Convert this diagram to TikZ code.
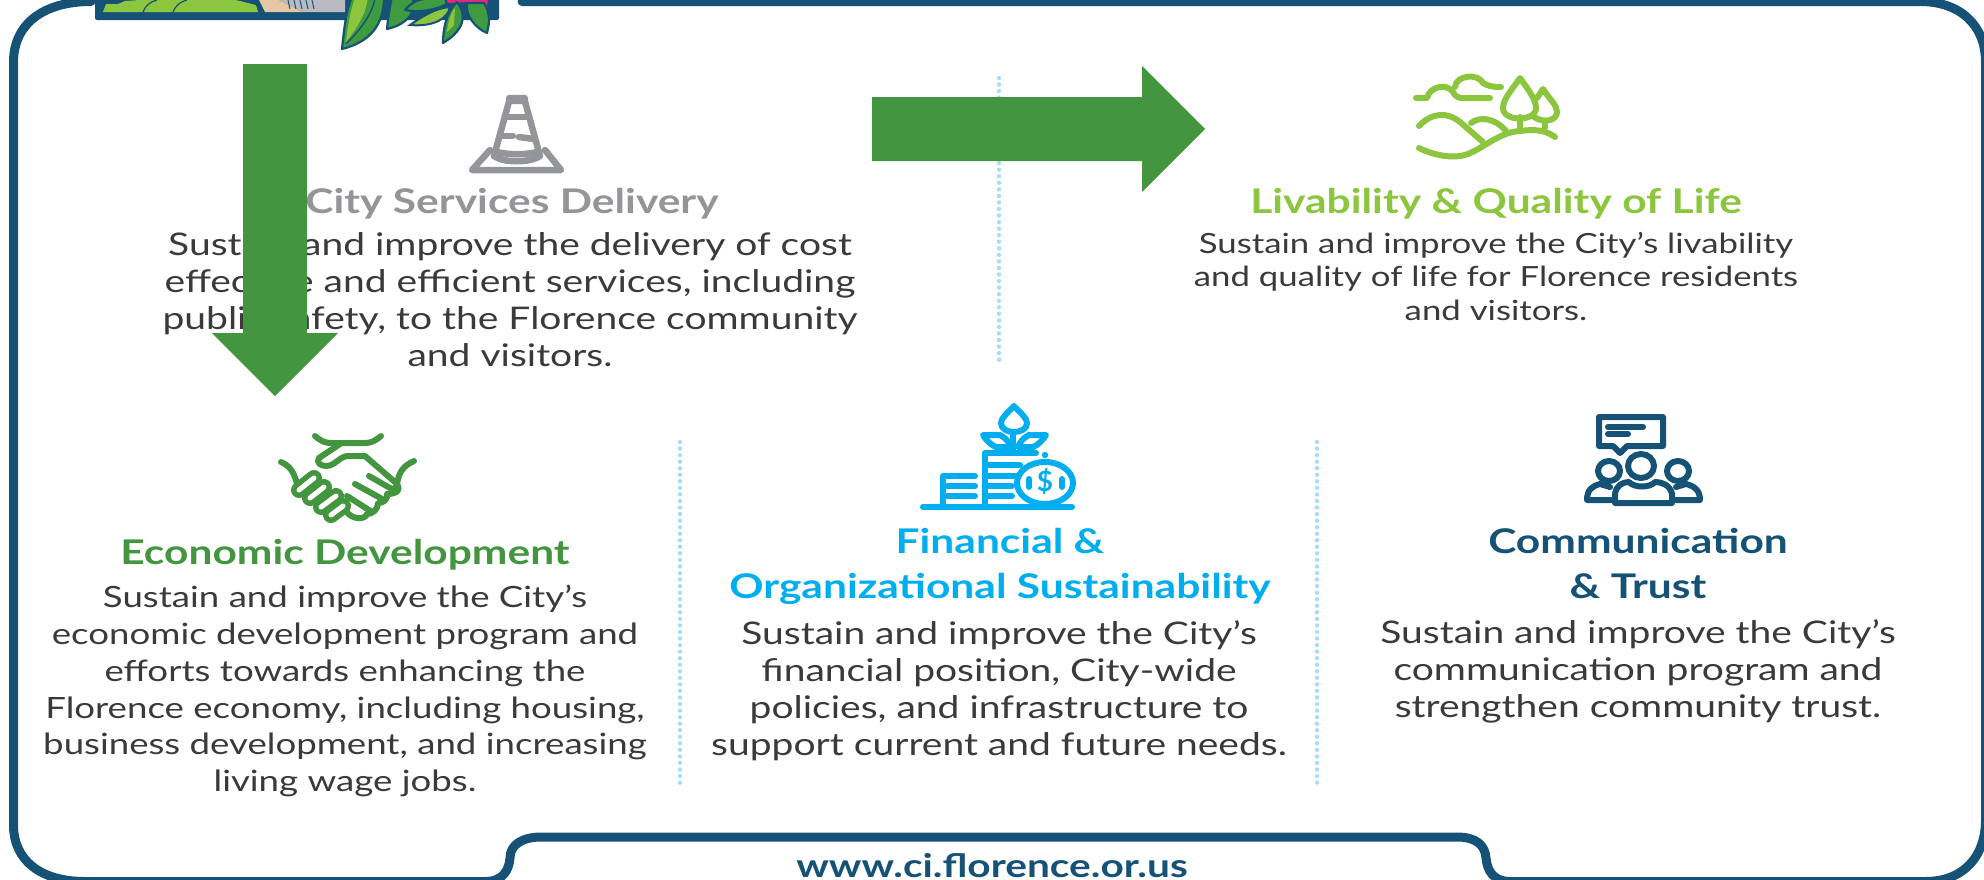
\documentclass[tikz,border=0pt]{standalone}
\usepackage{fontspec}
\setmainfont{Lato}
\newfontfamily\wfont{Lato}[FakeStretch=1.25]
\definecolor{navy}{HTML}{165276}
\definecolor{grn}{HTML}{44953F}
\definecolor{lime}{HTML}{8CC63F}
\definecolor{leafd}{HTML}{3F9B3F}
\definecolor{sky}{HTML}{00AEEF}
\definecolor{gry}{HTML}{939598}
\definecolor{txt}{HTML}{3A3A3C}
\definecolor{dots}{HTML}{A9DDF5}
\definecolor{beige}{HTML}{E6C6A4}
\definecolor{rail}{HTML}{B9BBBE}
\definecolor{pinkf}{HTML}{E6277B}
\tikzset{
 head/.style={font=\wfont\bfseries\fontsize{34}{45}\selectfont,align=center,anchor=center,inner sep=0pt},
 body/.style={text=txt,font=\wfont\fontsize{31.2}{37}\selectfont,align=center,anchor=north,inner sep=0pt},
 bodyecon/.style={text=txt,font=\wfont\fontsize{29.3}{36.8}\selectfont,align=center,anchor=north,inner sep=0pt},
 bodysmall/.style={text=txt,font=\wfont\fontsize{27.8}{33.5}\selectfont,align=center,anchor=north,inner sep=0pt},
 sep/.style={dots,line width=4.4pt,line cap=round,dash pattern=on 0pt off 6.55pt},
 icon/.style={line width=5pt,line cap=round,line join=round},
 leaf/.style={fill=leafd,draw=navy,line width=2.2pt,line join=round},
 leaflight/.style={fill=lime,draw=none}}
\begin{document}
\begin{tikzpicture}[x=1pt,y=-1pt]
\useasboundingbox (0,0) rectangle (1984,879);
% frame
\draw[navy,line width=9pt,line cap=round,line join=round]
 (91,1.5) .. controls (42,1.5) and (13.5,25) .. (13.5,62) -- (13.5,825)
 .. controls (13.5,860) and (40,881.5) .. (85,881.5) -- (485,881.5)
 .. controls (503,881.5) and (509,870) .. (510,858) .. controls (510,845) and (522,837) .. (541,837)
 -- (1457,837) .. controls (1476,837) and (1485,845) .. (1486,858) .. controls (1487,870) and (1493,881.5) .. (1510,881.5)
 -- (1925,881.5) .. controls (1965,881.5) and (1985.5,855) .. (1985.5,820) -- (1985.5,62)
 .. controls (1985.5,25) and (1960,1.5) .. (1920,1.5) -- (522,1.5);
% logo fragment
\fill[navy,rounded corners=2pt] (95,-5) rectangle (499,20);
\fill[lime] (103,12) -- (106,4) -- (118,4) -- (125,1) -- (140,0) -- (146,-2) -- (225,-2) -- (240,1) -- (256,5) -- (258,12) -- cycle;
\draw[navy,line width=1.2pt] (143,12) .. controls (146,5) and (150,2) .. (157,0);
\draw[navy,line width=1.2pt] (173,12) .. controls (176,5) and (180,2) .. (187,0);
\fill[beige] (258,-2) -- (265,12) -- (303,12) -- (275,-2) -- cycle;
\fill[rail] (275,-2) -- (303,12) -- (345,12) -- (345,-2) -- cycle;
\foreach \q in {288,294,300,306,312}{\draw[navy,line width=1pt] (\q,0) -- (\q+2,9);}
\fill[pinkf] (440,-2) -- (488,-2) -- (487,7) -- (470,2) -- (445,3) -- cycle;
% leaves
\filldraw[leaf] (342,49) .. controls (344,30) and (346,10) .. (352,-3) -- (384,-3) .. controls (384,25) and (370,42) .. (342,49) -- cycle;
\fill[leaflight] (346,42) .. controls (348,25) and (351,8) .. (355,-2) -- (368,-2) .. controls (366,10) and (362,22) .. (346,42) -- cycle;
\draw[navy,line width=1.4pt] (346,44) .. controls (360,30) and (372,15) .. (375,-2);
\filldraw[leaf] (387,29) .. controls (388,18) and (390,5) .. (392,-3) -- (412,-3) .. controls (418,8) and (410,24) .. (387,29) -- cycle;
\filldraw[leaf] (405,10) .. controls (415,-2) and (425,-2) .. (445,-2) -- (447,4) .. controls (435,10) and (420,13) .. (405,10) -- cycle;
\filldraw[fill=lime,draw=navy,line width=2pt] (410,25) .. controls (420,18) and (435,8) .. (450,7) .. controls (448,18) and (435,27) .. (410,25) -- cycle;
\filldraw[leaf] (443,43) .. controls (443,30) and (446,12) .. (457,2) .. controls (465,12) and (468,28) .. (443,43) -- cycle;
\fill[leaflight] (447,32) .. controls (448,22) and (451,12) .. (455,8) -- (454,25) -- cycle;
\filldraw[leaf] (487,33) .. controls (475,28) and (465,15) .. (467,3) -- (484,3) .. controls (490,12) and (490,22) .. (487,33) -- cycle;
% separators
\draw[sep] (999,78) -- (999,364);
\draw[sep] (680,442) -- (680,786);
\draw[sep] (1317,442) -- (1317,786);
% right arrow
\fill[grn] (872,97) -- (1142,97) -- (1142,66) -- (1205,129) -- (1142,192) -- (1142,161) -- (872,161) -- cycle;
% cone
\begin{scope}[gry,icon,line width=6.5pt]
 \draw (510,98) -- (524,98) -- (540,156) .. controls (530,163) and (503,163) .. (494,156) -- cycle;
 \fill[gry,rounded corners=3pt] (506,95) rectangle (528,104);
 \draw (505,117) -- (529,117);
 \draw (500,136) -- (513,136);
 \draw (519,137) -- (534,139);
 \draw (497,152) .. controls (510,155) and (525,155) .. (537,152);
 \draw (490,150) -- (472,170) -- (561,170) -- (545,150);
\end{scope}
% landscape
\begin{scope}[lime,icon,line width=6pt]
 \draw (1416,98) -- (1427,98) .. controls (1430,86) and (1447,83) .. (1453,92) .. controls (1455,96) and (1458,98) .. (1462,98) -- (1490,98);
 \draw (1455,87) .. controls (1456,75) and (1478,73) .. (1483,83) .. controls (1488,86) and (1492,87) .. (1501,87);
 \draw (1520,78) .. controls (1510,92) and (1503,100) .. (1503,108) .. controls (1503,122) and (1536,122) .. (1536,108) .. controls (1536,100) and (1530,92) .. (1520,78) -- cycle;
 \draw (1520,117) -- (1520,131);
 \draw (1537,98) -- (1543,89) .. controls (1550,100) and (1557,105) .. (1557,112) .. controls (1557,120) and (1545,124) .. (1534,117);
 \draw (1545,121) -- (1545,128);
 \draw (1419,148) .. controls (1435,156) and (1455,159) .. (1468,154) .. controls (1485,147) and (1500,132) .. (1520,131) .. controls (1535,129) and (1545,130) .. (1555,137);
 \draw (1419,126) .. controls (1432,112) and (1448,112) .. (1460,122) -- (1483,142);
 \draw (1471,123) .. controls (1480,116) and (1495,118) .. (1506,131);
\end{scope}
% handshake
\begin{scope}[grn,icon,line width=6pt]
 \draw (315,436) .. controls (322,442) and (326,443) .. (332,443) -- (365,443) .. controls (371,443) and (375,441) .. (381,436);
 \draw (340,444) -- (319,458) .. controls (316,462) and (320,466) .. (326,466) .. controls (335,466) and (340,456) .. (348,456) -- (365,456) -- (396,483) .. controls (399,488) and (394,490) .. (390,488) -- (369,476);
 \draw (355,484) -- (384,500);
 \draw (347,496) -- (372,512);
 \draw (414,461) .. controls (403,466) and (399,472) .. (397,484) .. controls (401,489) and (398,494) .. (387,494) .. controls (388,500) and (383,503) .. (378,503) .. controls (378,510) and (372,514) .. (367,514) .. controls (365,520) and (352,520) .. (346,511);
 \draw (281,462) .. controls (290,466) and (294,472) .. (297,484);
\end{scope}
\begin{scope}[line cap=round]
 \foreach \aa/\bb/\cc/\dd in {299/490/314/478, 310/498/324/487, 321/507/336/496, 331/515/343/506}
  {\draw[grn,line width=16pt] (\aa,\bb) -- (\cc,\dd);}
 \foreach \aa/\bb/\cc/\dd in {299/490/314/478, 310/498/324/487, 321/507/336/496, 331/515/343/506}
  {\draw[white,line width=5pt] (\aa,\bb) -- (\cc,\dd);}
\end{scope}
% coins
\begin{scope}[sky,icon,line width=6pt]
 \draw (923,507) -- (1072,507);
 \draw (975,476) -- (943,476) -- (943,507);
 \draw (947,486) -- (975,486);
 \draw (947,496) -- (975,496);
 \draw (1036,453) -- (985,453) -- (985,507);
 \draw (988,465) -- (1020,465);
 \draw (988,476) -- (1016,476);
 \draw (988,486) -- (1012,486);
 \draw (988,496) -- (1012,496);
 \fill[sky] (1045,455) circle (3.2pt);
 \draw (1045,483) ellipse (28 and 21);
 \draw (1029,479) -- (1029,487);
 \draw (1062,479) -- (1062,487);
 \draw (1014,406) .. controls (1006,414) and (1001,419) .. (1001,423) .. controls (1001,435) and (1027,435) .. (1027,423) .. controls (1027,419) and (1022,414) .. (1014,406) -- cycle;
 \draw (1013,433) -- (1013,452);
 \draw (983,435) -- (1000,435) .. controls (1006,438) and (1009,442) .. (1011,447) -- (996,447) .. controls (991,445) and (986,440) .. (983,435) -- cycle;
 \draw (1046,435) -- (1029,435) .. controls (1023,438) and (1020,442) .. (1018,447) -- (1033,447) .. controls (1038,445) and (1043,440) .. (1046,435) -- cycle;
\end{scope}
\node[text=sky,font=\bfseries\fontsize{28}{28}\selectfont,inner sep=0pt] (dollar) at (1045,482) {\$};
% people
\begin{scope}[navy,icon,line width=6pt]
 \draw (1599,417) -- (1663,417) -- (1663,446) -- (1627,446) -- (1620,453) -- (1613,446) -- (1599,446) -- cycle;
 \draw (1608,427) -- (1643,427);
 \draw (1608,434) -- (1628,434);
 \draw (1641,466) ellipse (13 and 12);
 \draw (1609,471) ellipse (11 and 10);
 \draw (1678,471) ellipse (11 and 10);
 \draw (1615,503) -- (1672,503) -- (1672,494) .. controls (1670,485) and (1662,482) .. (1655,482) .. controls (1650,488) and (1634,488) .. (1629,482) .. controls (1622,482) and (1616,486) .. (1615,494) -- cycle;
 \draw (1610,487) -- (1600,484) .. controls (1592,486) and (1587,490) .. (1587,500) -- (1611,500);
 \draw (1676,487) -- (1686,484) .. controls (1694,486) and (1700,490) .. (1700,500) -- (1676,500);
\end{scope}
% texts
\node[head,gry] (h1) at (512,204) {City Services Delivery};
\node[body] (b1) at (510,232.5) {Sustain and improve the delivery of cost\\effective and efficient services, including\\public safety, to the Florence community\\and visitors.};
\node[head,lime] (h2) at (1496,204) {Livability \& Quality of Life};
\node[bodysmall] (b2) at (1496,232) {Sustain and improve the City’s livability\\and quality of life for Florence residents\\and visitors.};
\node[head,grn] (h3) at (345,555) {Economic Development};
\node[bodyecon] (b3) at (345,585) {Sustain and improve the City’s\\economic development program and\\efforts towards enhancing the\\Florence economy, including housing,\\business development, and increasing\\living wage jobs.};
\node[head,sky] (h4) at (1000,566) {Financial \&\\Organizational Sustainability};
\node[body] (b4) at (999,620) {Sustain and improve the City’s\\financial position, City-wide\\policies, and infrastructure to\\support current and future needs.};
\node[head,navy] (h5) at (1638,563.5) {Communication\\\& Trust};
\node[body] (b5) at (1638,619) {Sustain and improve the City’s\\communication program and\\strengthen community trust.};
\node[font=\wfont\bfseries\fontsize{32.5}{32.5}\selectfont,text=navy,inner sep=0pt,anchor=base] (url) at (992,877) {www.ci.florence.or.us};
% down arrow
\fill[grn] (243,64) -- (307,64) -- (307,333) -- (338,333) -- (275,396) -- (212,333) -- (243,333) -- cycle;
\end{tikzpicture}
\end{document}
